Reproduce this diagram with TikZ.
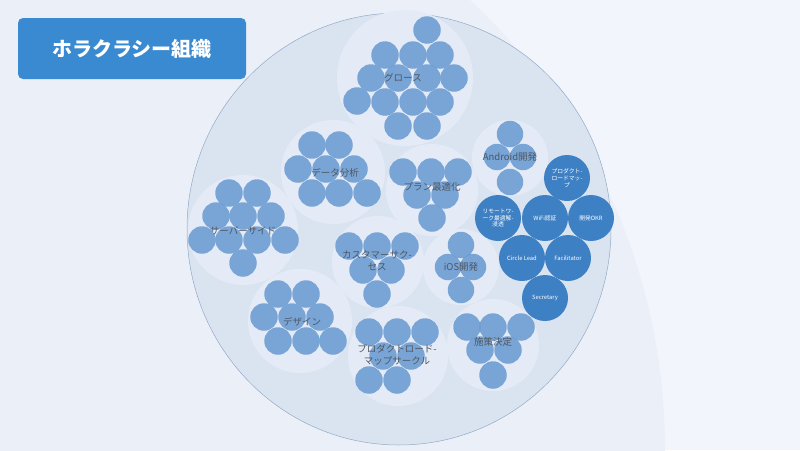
\documentclass[tikz,border=0pt]{standalone}
\usepackage{fontspec}
\setmainfont{Noto Sans CJK JP}
\definecolor{pageleft}{HTML}{EBF0F8}
\definecolor{pageright}{HTML}{F3F5FC}
\definecolor{orgfill}{HTML}{DAE4F1}
\definecolor{orgline}{HTML}{93A9C8}
\definecolor{circlebgfill}{HTML}{E4EBF6}
\definecolor{memberblue}{HTML}{6A9BD2}
\definecolor{roleblue}{HTML}{3E80C4}
\definecolor{titleblue}{HTML}{3A8AD2}
\definecolor{labelgray}{HTML}{50565F}
\begin{document}
\begin{tikzpicture}[
            x=1pt, y=-1pt,
            every node/.style={font=\fontsize{9}{10.5}\selectfont},
            circlebg/.style={circle, fill=circlebgfill, minimum size=#1, inner sep=0pt},
            member/.style={circle, fill=memberblue, fill opacity=0.88, minimum size=27.5pt, inner sep=0pt},
            role/.style={circle, fill=roleblue, minimum size=46pt, inner sep=0pt, text=white, align=center, font=\fontsize{5.8}{6.8}\selectfont},
            circlelabel/.style={text=labelgray, align=center, font=\fontsize{9.5}{11.5}\selectfont},
            titlebox/.style={rectangle, rounded corners=5pt, fill=titleblue, minimum width=228pt, minimum height=61pt, text=white, font=\fontsize{20}{24}\bfseries}
        ]

        % page and background arc
        \fill[pageright] (0,0) rectangle (800,450);
        \useasboundingbox (0,0) rectangle (800,450);
        \clip (0,0) rectangle (800,450);
        \fill[pageleft] (48,450) circle (617);

        % the organisation
        \filldraw[fill=orgfill, draw=orgline, line width=0.5pt] (399,229) ellipse [x radius=212, y radius=216];

        % circles
        \node[circlebg=136pt] (growthbg) at (405,78) {};
        \node[circlebg=104pt] (databg)   at (333,172) {};
        \node[circlebg=92pt]  (planbg)   at (432,190) {};
        \node[circlebg=110pt] (serverbg) at (243,230) {};
        \node[circlebg=76pt]  (androidbg) at (510,158) {};
        \node[circlebg=92pt]  (csbg)     at (378,262) {};
        \node[circlebg=76pt]  (iosbg)    at (461,267) {};
        \node[circlebg=104pt] (designbg) at (300,321) {};
        \node[circlebg=100pt] (roadmapbg) at (398,356) {};
        \node[circlebg=92pt]  (decisionbg) at (493,345) {};

        % members
        \foreach \x/\y [count=\i] in {427/30, 385/55, 413/55, 440/55, 371/78, 398/78, 427/78, 454/78,
                                      357/101, 385/102, 413/102, 440/102, 398/126, 427/126}
            \node[member] (growth\i) at (\x,\y) {};
        \foreach \x/\y [count=\i] in {312/145, 339/145, 298/169, 326/169, 354/169, 312/193, 339/193, 367/193}
            \node[member] (data\i) at (\x,\y) {};
        \foreach \x/\y [count=\i] in {403/172, 431/172, 458/172, 417/195, 445/195, 432/218}
            \node[member] (plan\i) at (\x,\y) {};
        \foreach \x/\y [count=\i] in {229/193, 257/193, 216/216, 243/216, 271/216,
                                      202/240, 229/240, 257/240, 285/240, 243/263}
            \node[member] (server\i) at (\x,\y) {};
        \foreach \x/\y [count=\i] in {510/134, 497/157, 523/157, 510/182}
            \node[member, minimum size=26.5pt] (android\i) at (\x,\y) {};
        \foreach \x/\y [count=\i] in {349/246, 377/246, 405/246, 363/270, 391/270, 377/294}
            \node[member] (cs\i) at (\x,\y) {};
        \foreach \x/\y [count=\i] in {461/245, 448/267, 473/267, 461/290}
            \node[member, minimum size=26.5pt] (ios\i) at (\x,\y) {};
        \foreach \x/\y [count=\i] in {278/294, 306/294, 264/317, 292/317, 320/317, 278/341, 306/341, 333/341}
            \node[member] (design\i) at (\x,\y) {};
        \foreach \x/\y [count=\i] in {369/332, 397/332, 425/332, 383/356, 411/356, 369/380, 397/380}
            \node[member] (roadmap\i) at (\x,\y) {};
        \foreach \x/\y [count=\i] in {467/327, 493/327, 521/327, 480/350, 508/350, 493/375}
            \node[member] (decision\i) at (\x,\y) {};

        % circle names
        \node[circlelabel] (growth)   at (403,78)  {グロース};
        \node[circlelabel] (data)     at (335,173) {データ分析};
        \node[circlelabel] (plan)     at (432,187) {プラン最適化};
        \node[circlelabel] (server)   at (243,231) {サーバーサイド};
        \node[circlelabel] (android)  at (510,157) {Android開発};
        \node[circlelabel] (cs)       at (377,261) {カスタマーサク-\\セス};
        \node[circlelabel] (ios)      at (461,267) {iOS開発};
        \node[circlelabel] (design)   at (302,322) {デザイン};
        \node[circlelabel] (roadmap)  at (397,355) {プロダクトロード-\\マップサークル};
        \node[circlelabel] (decision) at (493,342) {施策決定};

        % roles of the anchor circle
        \node[role] (roadmaprole) at (567,178) {プロダクト-\\ロードマッ-\\プ};
        \node[role] (remote)      at (498,218) {リモートワ-\\ーク最適解-\\浸透};
        \node[role] (wifi)        at (545,218) {WiFi認証};
        \node[role] (okr)         at (591,218) {開発OKR};
        \node[role] (lead)        at (522,258) {Circle Lead};
        \node[role] (facilitator) at (568,258) {Facilitator};
        \node[role] (secretary)   at (545,298) {Secretary};

        \node[titlebox] (title) at (132,48.5) {ホラクラシー組織};

    \end{tikzpicture}
\end{document}
